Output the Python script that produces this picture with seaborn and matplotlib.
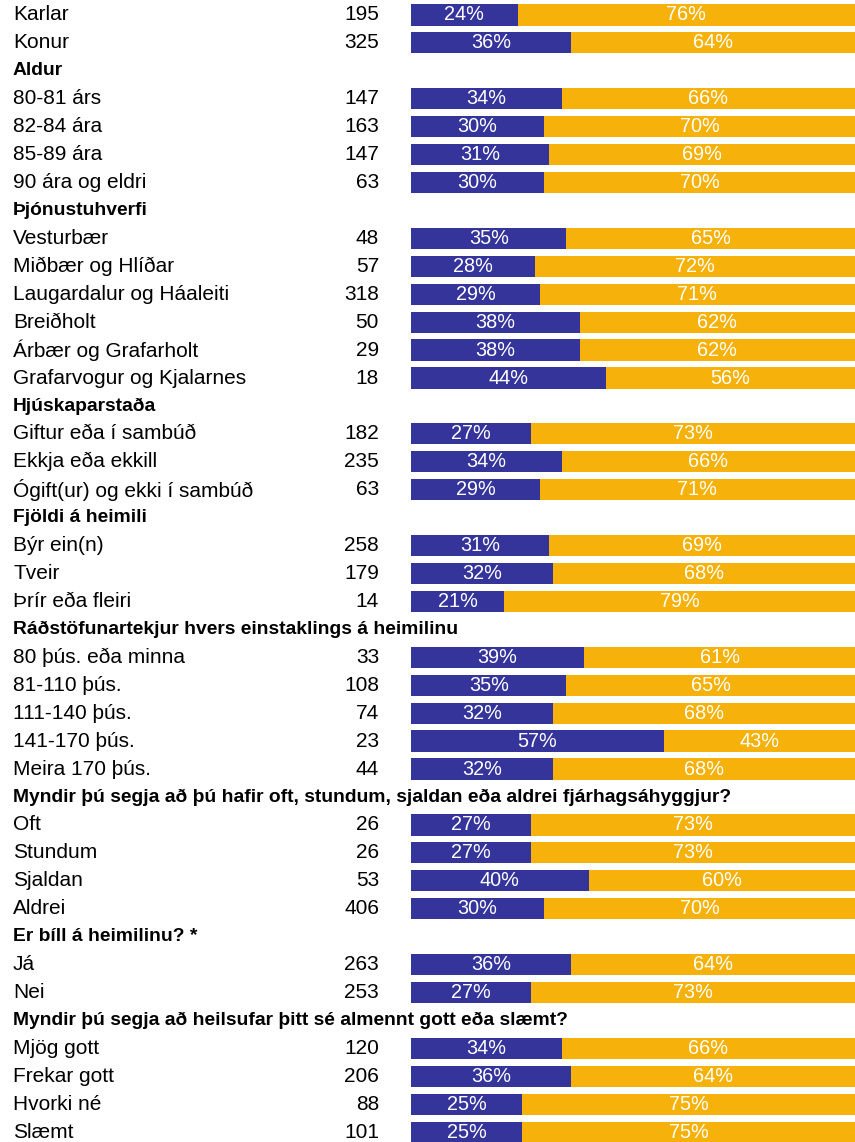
import numpy as np
import pandas as pd
import matplotlib
matplotlib.use("Agg")
import matplotlib.pyplot as plt
import matplotlib.transforms as mtransforms
from matplotlib import font_manager
import seaborn as sns

# Rows top to bottom; headers have no n / percent (None)
row_labels = [
    "Kyn", "Karlar", "Konur",
    "Aldur", "80-81 árs", "82-84 ára", "85-89 ára", "90 ára og eldri",
    "Þjónustuhverfi", "Vesturbær", "Miðbær og Hlíðar", "Laugardalur og Háaleiti",
    "Breiðholt", "Árbær og Grafarholt", "Grafarvogur og Kjalarnes",
    "Hjúskaparstaða", "Giftur eða í sambúð", "Ekkja eða ekkill", "Ógift(ur) og ekki í sambúð",
    "Fjöldi á heimili", "Býr ein(n)", "Tveir", "Þrír eða fleiri",
    "Ráðstöfunartekjur hvers einstaklings á heimilinu",
    "80 þús. eða minna", "81-110 þús.", "111-140 þús.", "141-170 þús.", "Meira 170 þús.",
    "Myndir þú segja að þú hafir oft, stundum, sjaldan eða aldrei fjárhagsáhyggjur?",
    "Oft", "Stundum", "Sjaldan", "Aldrei",
    "Er bíll á heimilinu? *", "Já", "Nei",
    "Myndir þú segja að heilsufar þitt sé almennt gott eða slæmt?",
    "Mjög gott", "Frekar gott", "Hvorki né", "Slæmt",
]
row_n = [
    None, 195, 325,
    None, 147, 163, 147, 63,
    None, 48, 57, 318, 50, 29, 18,
    None, 182, 235, 63,
    None, 258, 179, 14,
    None, 33, 108, 74, 23, 44,
    None, 26, 26, 53, 406,
    None, 263, 253,
    None, 120, 206, 88, 101,
]
blue_pct = [
    None, 24, 36,
    None, 34, 30, 31, 30,
    None, 35, 28, 29, 38, 38, 44,
    None, 27, 34, 29,
    None, 31, 32, 21,
    None, 39, 35, 32, 57, 32,
    None, 27, 27, 40, 30,
    None, 36, 27,
    None, 34, 36, 25, 25,
]

BLUE = "#35349a"
ORANGE = "#f6b20a"

sns.set_style("white")
installed = {f.name for f in font_manager.fontManager.ttflist}
fam = "Liberation Sans Narrow" if "Liberation Sans Narrow" in installed else "Liberation Sans"
plt.rcParams["font.family"] = [fam, "DejaVu Sans"]

df = pd.DataFrame({"label": row_labels, "n": row_n, "blue": blue_pct})
data = df.dropna(subset=["blue"]).copy()
data["total"] = 100.0

W, H = 855, 1142
fig = plt.figure(figsize=(W / 100, H / 100), dpi=100)
bax = fig.add_axes([411 / W, 0, 444 / W, 1])

sns.barplot(data=data, x="total", y="label", order=row_labels, color=ORANGE,
            orient="h", width=0.76, errorbar=None, saturation=1, linewidth=0, ax=bax)
sns.barplot(data=data, x="blue", y="label", order=row_labels, color=BLUE,
            orient="h", width=0.76, errorbar=None, saturation=1, linewidth=0, ax=bax)

# row k center at pixel -13 + 27.93*k from top
step = 27.93
top = 13 / step
bottom = (H + 13) / step
bax.set_xlim(0, 100)
bax.set_ylim(bottom, top)
bax.axis("off")

trans = mtransforms.blended_transform_factory(fig.transFigure, bax.transData)
fs = 15
fs_head = 13.9
fs_pct = 14.3
for k, (lab, n, b) in enumerate(zip(row_labels, row_n, blue_pct)):
    if b is None or (isinstance(b, float) and np.isnan(b)):
        bax.text(13 / W, k, lab, transform=trans, ha="left", va="center",
                 fontsize=fs_head, fontweight="bold", color="black")
        continue
    bax.text(13 / W, k, lab, transform=trans, ha="left", va="center",
             fontsize=fs, color="black")
    bax.text(379 / W, k, f"{int(n)}", transform=trans, ha="right", va="center",
             fontsize=fs, color="black")
    bax.text(b / 2, k, f"{int(b)}%", ha="center", va="center",
             fontsize=fs_pct, color="white")
    bax.text(b + (100 - b) / 2, k, f"{int(100 - b)}%", ha="center", va="center",
             fontsize=fs_pct, color="white")

fig.savefig("out.png", dpi=100)
